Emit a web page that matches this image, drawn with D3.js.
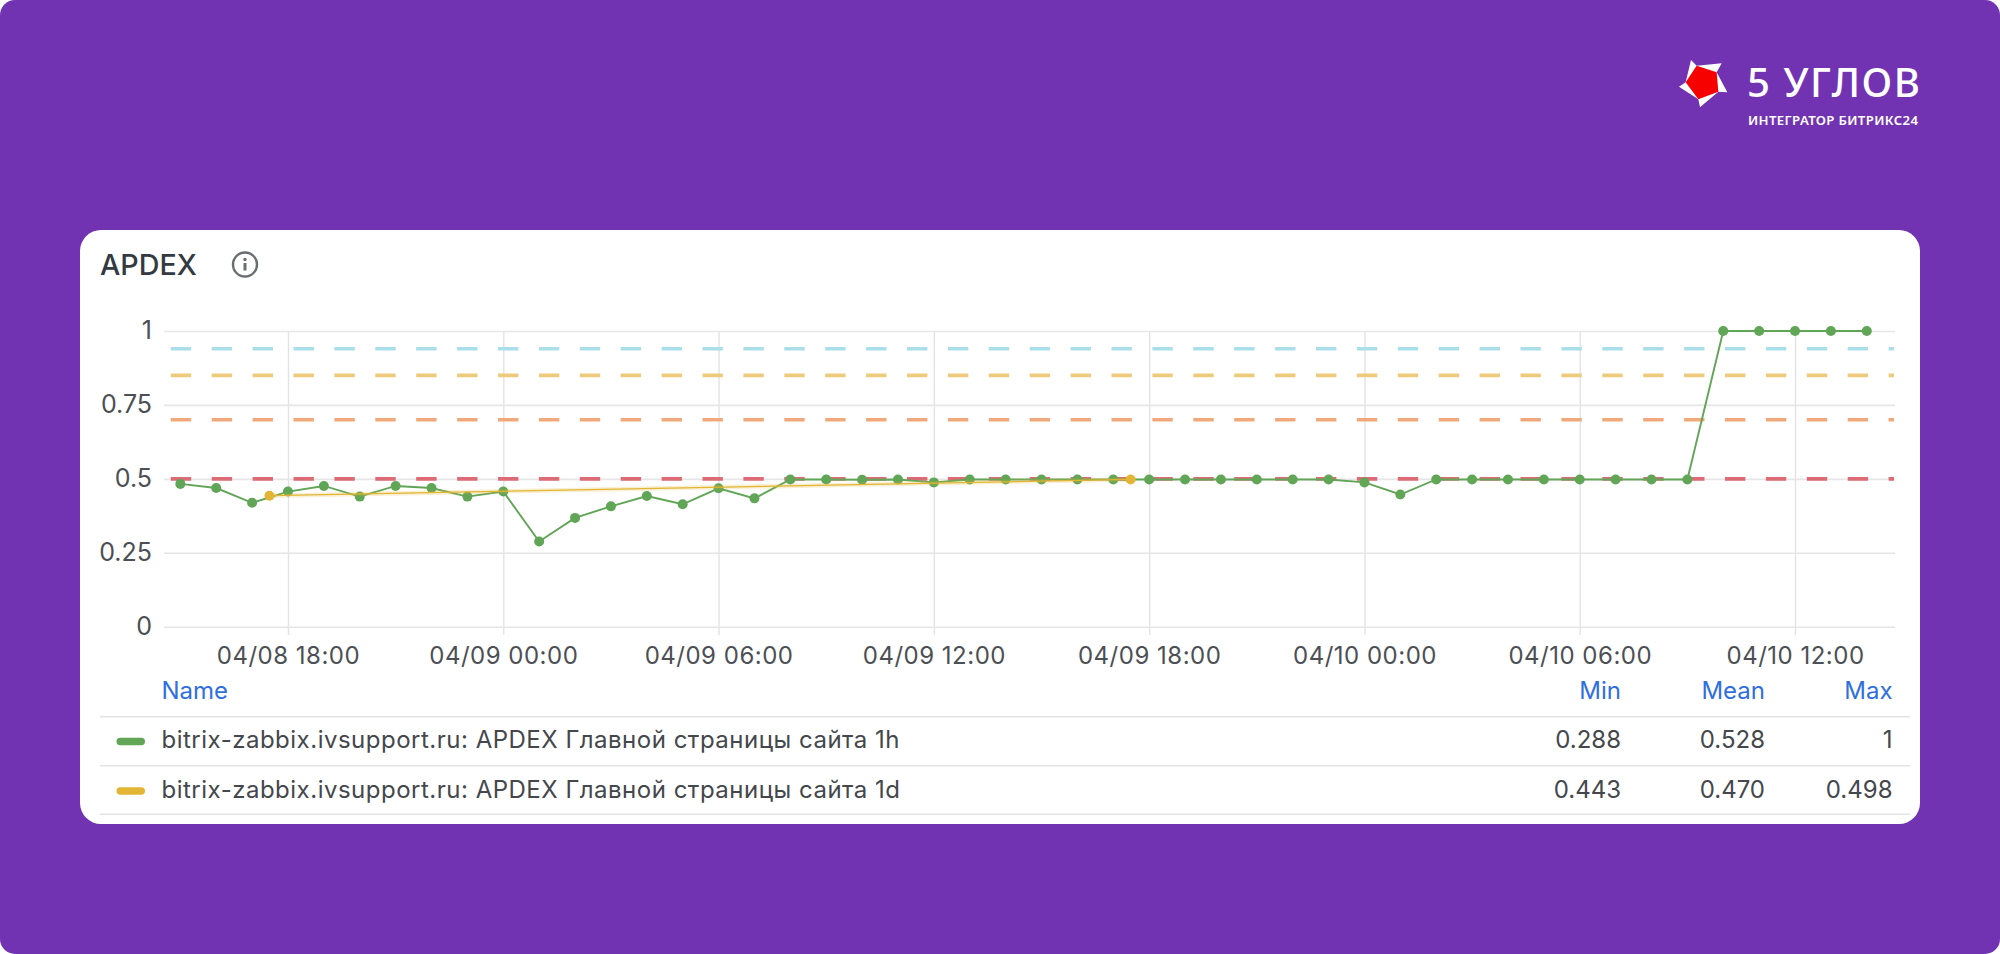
<!DOCTYPE html>
<html>
<head>
<meta charset="utf-8">
<style>
  html, body { margin: 0; padding: 0; background: #fff; }
  svg { display: block; }
  text { font-family: Inter, Roboto, sans-serif; }
</style>
<script src="https://cdn.jsdelivr.net/npm/d3@7/dist/d3.min.js"></script>
</head>
<body>
<svg id="chart" width="2000" height="954"></svg>
<script>
// Hourly APDEX readings, 04/08 15:00 through 04/10 14:00
const hourlyValues = [
  0.483, 0.469, 0.419, 0.457, 0.476, 0.440, 0.476, 0.469, 0.440,
  0.457, 0.288, 0.368, 0.407, 0.442, 0.414, 0.468, 0.434, 0.498,
  0.498, 0.497, 0.498, 0.488, 0.498, 0.498, 0.498, 0.498, 0.498,
  0.498, 0.498, 0.498, 0.498, 0.498, 0.498,
  0.488, 0.447, 0.498, 0.498, 0.498, 0.498, 0.498, 0.498, 0.498,
  0.498, 1, 1, 1, 1, 1
];
const hourlyStart = Date.UTC(2024, 3, 8, 15);

// Daily APDEX readings
const dailyTimes = [Date.UTC(2024, 3, 8, 17, 29), Date.UTC(2024, 3, 9, 17, 29)];
const dailyValues = [0.443, 0.498];

// Alert thresholds drawn as dashed rules
const thresholdValues = [0.94, 0.85, 0.7, 0.5];
const thresholdColors = ["#a9deea", "#eecb7c", "#f1a97c", "#dc6b76"];

const yTickValues = [0, 0.25, 0.5, 0.75, 1];

const seriesNames = [
  "bitrix-zabbix.ivsupport.ru: APDEX Главной страницы сайта 1h",
  "bitrix-zabbix.ivsupport.ru: APDEX Главной страницы сайта 1d"
];
const seriesColors = ["#61a556", "#e2b534"];
const columnNames = ["Min", "Mean", "Max"];
const minLabels = ["0.288", "0.443"];
const meanLabels = ["0.528", "0.470"];
const maxLabels = ["1", "0.498"];

const hourlyTimes = hourlyValues.map((_, i) => new Date(hourlyStart + i * 3600e3));

const purple = "#7233b3";
const svg = d3.select("#chart");

// Page panel and white card
svg.append("rect").attr("width", 2000).attr("height", 954).attr("rx", 15).attr("fill", purple);
svg.append("rect").attr("x", 80).attr("y", 230).attr("width", 1840).attr("height", 594)
  .attr("rx", 21).attr("fill", "#fff");

// Brand mark: white star behind a red pentagon
const logo = svg.append("g").attr("transform", "translate(1670,50) scale(0.3333)");
logo.append("polygon")
  .attr("points", [[63, 30], [80, 47], [155, 40], [140, 67], [172, 127], [145, 125], [90, 172], [85, 148], [27, 110], [47, 97]].join(" "))
  .attr("fill", "#fff");
logo.append("polygon").attr("points", [[80, 47], [140, 67], [145, 125], [85, 148], [47, 97]].join(" "))
  .attr("fill", "#f60000");

svg.append("text").attr("x", 1747).attr("y", 97).attr("fill", "#fff")
  .style("font-family", "'Noto Sans'").style("font-weight", 500).style("font-size", "40px").style("letter-spacing", "1.6px")
  .text("5 УГЛОВ");
svg.append("text").attr("x", 1748).attr("y", 125).attr("fill", "#fff")
  .style("font-family", "'Noto Sans'").style("font-weight", 600).style("font-size", "13.2px")
  .style("letter-spacing", "0.35px")
  .text("ИНТЕГРАТОР БИТРИКС24");

// Card title and info icon
svg.append("text").attr("x", 100).attr("y", 274.5).attr("fill", "#333a42")
  .style("font-size", "28.7px").style("font-weight", 500).text("APDEX");
const info = svg.append("g").attr("transform", "translate(245,264.5)");
info.append("circle").attr("r", 12).attr("fill", "none").attr("stroke", "#6a6d71").attr("stroke-width", 2.4);
info.append("circle").attr("cy", -5).attr("r", 1.7).attr("fill", "#6a6d71");
info.append("rect").attr("x", -1.5).attr("y", -1.5).attr("width", 3).attr("height", 7.5).attr("fill", "#6a6d71");

// Scales
const x = d3.scaleUtc()
  .domain([Date.UTC(2024, 3, 8, 14, 31, 30), Date.UTC(2024, 3, 10, 14, 46)])
  .range([163.3, 1894.3]);
const y = d3.scaleLinear().domain([0, 1]).range([626.7, 331]);

// Axes with their ticks extended into grid lines
const xAxis = d3.axisBottom(x)
  .tickValues(d3.utcHour.every(6).range(new Date(Date.UTC(2024, 3, 8, 18)), new Date(Date.UTC(2024, 3, 10, 13))))
  .tickFormat(d3.utcFormat("%m/%d %H:%M"))
  .tickSize(304).tickPadding(0);
const gx = svg.append("g").attr("transform", `translate(0,${y(1)})`).call(xAxis);
gx.select(".domain").remove();
gx.selectAll("line").attr("stroke", "#e3e3e3").attr("stroke-width", 1.4);
gx.selectAll("text").attr("y", 0).attr("dy", 0)
  .attr("transform", "translate(0,332.5)")
  .style("font-size", "24px").style("letter-spacing", "0.5px")
  .attr("fill", "#4c4f54").attr("text-anchor", "middle");

const yAxis = d3.axisLeft(y).tickValues(yTickValues).tickFormat(d3.format("~g"))
  .tickSize(-(1895 - 164)).tickPadding(12);
const gy = svg.append("g").attr("transform", "translate(164,0)").call(yAxis);
gy.select(".domain").remove();
gy.selectAll("line").attr("stroke", "#e6e6e6").attr("stroke-width", 1.6);
gy.selectAll("text").style("font-size", "25px").attr("fill", "#4c4f54").attr("dy", "0.3em");

// Thresholds
svg.append("g").selectAll("line").data(thresholdValues).join("line")
  .attr("x1", 170.8).attr("x2", 1894)
  .attr("y1", d => y(d)).attr("y2", d => y(d))
  .attr("stroke", (d, i) => thresholdColors[i])
  .attr("stroke-width", 3.6)
  .attr("stroke-dasharray", "20.4 20.5");

// Series
const line = d3.line().x(d => x(d[0])).y(d => y(d[1]));
const hourly = d3.zip(hourlyTimes, hourlyValues);
const daily = d3.zip(dailyTimes, dailyValues);

svg.append("path").datum(hourly).attr("d", line).attr("fill", "none")
  .attr("stroke", seriesColors[0]).attr("stroke-width", 1.9);
svg.append("g").selectAll("circle").data(hourly).join("circle")
  .attr("cx", d => x(d[0])).attr("cy", d => y(d[1])).attr("r", 5).attr("fill", seriesColors[0]);

svg.append("path").datum(daily).attr("d", line).attr("fill", "none")
  .attr("stroke", seriesColors[1]).attr("stroke-width", 4.5).attr("stroke-opacity", 0.22);
svg.append("path").datum(daily).attr("d", line).attr("fill", "none")
  .attr("stroke", seriesColors[1]).attr("stroke-width", 1.3);
svg.append("g").selectAll("circle").data(daily).join("circle")
  .attr("cx", d => x(d[0])).attr("cy", d => y(d[1])).attr("r", 5).attr("fill", seriesColors[1]);

// Legend table
const blue = "#2f6fde", ink = "#44474c";
const columnRight = [1621, 1765, 1892.5];
const rowCenter = [739.5, 789];
const ruleY = [716.7, 765.7, 814.3];

svg.append("g").selectAll("line").data(ruleY).join("line")
  .attr("x1", 100).attr("x2", 1910).attr("y1", d => d).attr("y2", d => d)
  .attr("stroke", "#e3e3e3").attr("stroke-width", 1.6);

const bodySize = "24px";
svg.append("text").attr("x", 161.5).attr("y", 698.7).attr("fill", blue).style("font-size", bodySize).text("Name");
svg.append("g").selectAll("text").data(columnNames).join("text")
  .attr("x", (d, i) => columnRight[i]).attr("y", 698.7).attr("text-anchor", "end")
  .attr("fill", blue).style("font-size", bodySize).text(d => d);

seriesNames.forEach((name, i) => {
  const cy = rowCenter[i];
  svg.append("rect").attr("x", 116.5).attr("y", cy - 1.7).attr("width", 28.5).attr("height", 7.5)
    .attr("rx", 3.7).attr("fill", seriesColors[i]);
  svg.append("text").attr("x", 161.5).attr("y", cy + 8.7).attr("fill", ink)
    .style("font-size", bodySize).style("letter-spacing", "0.5px").text(name);
  [minLabels, meanLabels, maxLabels].forEach((col, j) => {
    svg.append("text").attr("x", columnRight[j]).attr("y", cy + 8.7).attr("text-anchor", "end")
      .attr("fill", ink).style("font-size", bodySize).text(col[i]);
  });
});
</script>
</body>
</html>
